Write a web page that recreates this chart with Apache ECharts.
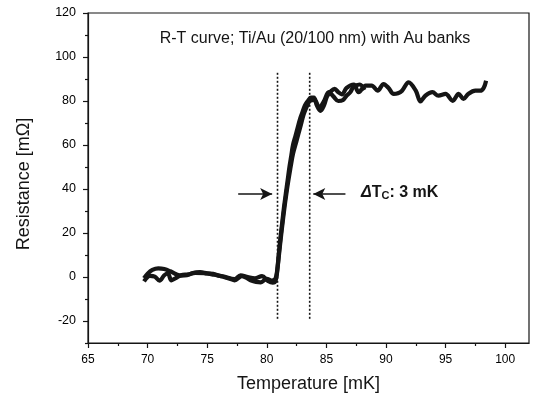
<!DOCTYPE html>
<html>
<head>
<meta charset="utf-8">
<script src="https://cdn.jsdelivr.net/npm/echarts@6/dist/echarts.min.js"></script>
<style>html,body{margin:0;padding:0;background:#fff}#c{width:533px;height:399px}</style>
</head>
<body>
<div id="c"></div>
<script>
// ---- data ----
var xMajorTicks = [65, 70, 75, 80, 85, 90, 95, 100];
var xMinorTicks = [67.5, 72.5, 77.5, 82.5, 87.5, 92.5, 97.5];
var yMajorTicks = [-20, 0, 20, 40, 60, 80, 100, 120];
var yMinorTicks = [-30, -10, 10, 30, 50, 70, 90, 110];

// trace A (main sweep)
var traceA_T = [69.7,70.0,70.4,70.9,71.4,71.9,72.3,72.8,73.3,73.8,74.4,75.0,75.5,76.0,76.4,76.9,77.3,77.9,78.3,78.7,79.1,79.5,80.0,80.4,80.7,
  80.85,81.0,81.15,81.3,81.45,81.6,81.75,81.9,82.05,82.2,82.4,82.6,82.8,83.0,83.2,83.45,83.7,83.95,84.2,84.5,84.8,85.05,85.4,85.7,86.0,86.3,86.7,
  87.3,87.7,88.3,88.8,89.3,89.8,90.2,90.65,91.0,91.35,91.9,92.5,92.9,93.3,93.9,94.4,95.0,95.6,96.1,96.5,96.9,97.5,97.9,98.2,98.4];
var traceA_R = [-0.5,1.5,3.2,3.9,3.6,2.6,1.5,0.6,0.8,1.8,2.2,1.6,1.4,0.6,0.0,-0.8,-1.5,0.4,-0.4,-1.6,-2.2,-2.4,-0.8,-1.6,-1.0,
  2,10,18,25,32,38,44,50,55,60,64,68,72,75,78,80,81.5,81.5,78,75.5,78,82,84.5,85.5,84,83,86,
  87.5,84,87,87,84.7,87.7,86,83.2,83.5,84.7,88.5,84.7,79.8,82.4,84,82.4,83.2,80.1,83.2,80.9,83.2,84.7,84.7,86,89.2];

// trace B (second sweep, overlapping)
var traceB_T = [69.7,70.2,70.6,71.0,71.4,71.7,72.0,72.4,72.8,73.4,74.0,74.8,75.6,76.4,77.3,77.8,78.4,79.0,79.6,80.1,80.5,80.75,
  80.9,81.1,81.4,81.7,82.0,82.2,82.5,82.8,83.1,83.4,83.6,84.0,84.4,84.8,85.2,85.6,86.0,86.4,86.7,87.0,87.3,87.8,88.2];
var traceB_R = [-2,0.5,0.2,-1.7,0.8,1.6,-1.5,-0.4,0.8,1.2,1.9,1.8,1.0,0.2,-1.0,0.8,0.0,-0.6,0.4,-1.8,-2.6,-1.5,
  4,14,28,40,50,56,62,68,74,78,80,80.5,77,80,84,82,80,80.5,82.5,84,86.5,87.5,85];

// transition markers
var tcLines = [80.9, 83.6];
var tcLineRange = [-19, 93];
var arrowY = 37.7;
var leftArrow = [77.6, 80.45];
var rightArrow = [86.6, 83.9];
var deltaLabelPos = [87.9, 38.5];

function pairs(a, b) { return a.map(function (v, i) { return [v, b[i]]; }); }

var ink = '#151515';
var font = '"Liberation Sans", Arial, sans-serif';

var series = [
  { type: 'line', data: pairs(traceA_T, traceA_R), showSymbol: false, smooth: 0.35,
    lineStyle: { color: ink, width: 4.2 }, z: 5, silent: true },
  { type: 'line', data: pairs(traceB_T, traceB_R), showSymbol: false, smooth: 0.35,
    lineStyle: { color: ink, width: 4.2 }, z: 5, silent: true }
];
tcLines.forEach(function (t) {
  series.push({ type: 'line', data: [[t, tcLineRange[0]], [t, tcLineRange[1]]], showSymbol: false,
    lineStyle: { color: ink, width: 1.6, type: [2, 2] }, z: 3, silent: true });
});
series.push({ type: 'line', data: [], silent: true,
  markLine: { silent: true, symbol: ['none', 'arrow'], symbolSize: [9, 12], animation: false,
    label: { show: false },
    lineStyle: { color: ink, width: 1.6, type: 'solid' },
    data: [
      [{ coord: [leftArrow[0], arrowY] }, { coord: [leftArrow[1], arrowY] }],
      [{ coord: [rightArrow[0], arrowY] }, { coord: [rightArrow[1], arrowY] }]
    ] } });
series.push({ type: 'scatter', data: [deltaLabelPos], symbolSize: 0, silent: true,
  itemStyle: { opacity: 1 },
  label: { show: true, position: 'right', distance: 0, color: ink,
    formatter: '{d|Δ}{b|T}{s|C}{b|: 3 mK}',
    rich: {
      d: { fontFamily: font, fontSize: 16, fontWeight: 'bold', fontStyle: 'italic', color: ink },
      b: { fontFamily: font, fontSize: 16, fontWeight: 'bold', color: ink },
      s: { fontFamily: font, fontSize: 11, fontWeight: 'bold', color: ink, verticalAlign: 'bottom', padding: [8, 0, 0, 0] }
    } } });

var chart = echarts.init(document.getElementById('c'), null, { renderer: 'canvas' });
chart.setOption({
  animation: false,
  backgroundColor: '#fff',
  title: { text: 'R-T curve; Ti/Au (20/100 nm) with Au banks', left: 310, top: 26, textAlign: 'center',
    textStyle: { fontFamily: font, fontSize: 16, fontWeight: 'normal', color: ink } },
  grid: { left: 88, right: 4, top: 13, bottom: 56, show: true, borderColor: ink, borderWidth: 1.2 },
  xAxis: [
    { type: 'value', min: 65, max: 102, name: 'Temperature [mK]', nameLocation: 'middle', nameGap: 32,
      nameTextStyle: { fontFamily: font, fontSize: 18, color: ink },
      axisLine: { onZero: false, lineStyle: { color: ink, width: 1.2 } },
      axisTick: { customValues: xMajorTicks, length: 5, lineStyle: { color: ink, width: 1.2 } },
      axisLabel: { customValues: xMajorTicks, margin: 11, fontFamily: font, fontSize: 12, color: '#000' },
      splitLine: { show: false } },
    { type: 'value', min: 65, max: 102, position: 'bottom',
      axisLine: { show: false, onZero: false },
      axisTick: { customValues: xMinorTicks, length: 3, lineStyle: { color: ink, width: 1.2 } },
      axisLabel: { show: false }, splitLine: { show: false } }
  ],
  yAxis: [
    { type: 'value', min: -30, max: 120, name: 'Resistance [mΩ]', nameLocation: 'middle', nameGap: 55,
      nameTextStyle: { fontFamily: font, fontSize: 18, color: ink, padding: [0, 12, 0, 0] },
      axisLine: { show: true, onZero: false, lineStyle: { color: ink, width: 1.2 } },
      axisTick: { show: true, customValues: yMajorTicks, length: 5, lineStyle: { color: ink, width: 1.2 } },
      axisLabel: { customValues: yMajorTicks, margin: 12, fontFamily: font, fontSize: 12.5, color: '#000' },
      splitLine: { show: false } },
    { type: 'value', min: -30, max: 120, position: 'left',
      axisLine: { show: false, onZero: false },
      axisTick: { show: true, customValues: yMinorTicks, length: 3, lineStyle: { color: ink, width: 1.2 } },
      axisLabel: { show: false }, splitLine: { show: false } }
  ],
  series: series
});
</script>
</body>
</html>
